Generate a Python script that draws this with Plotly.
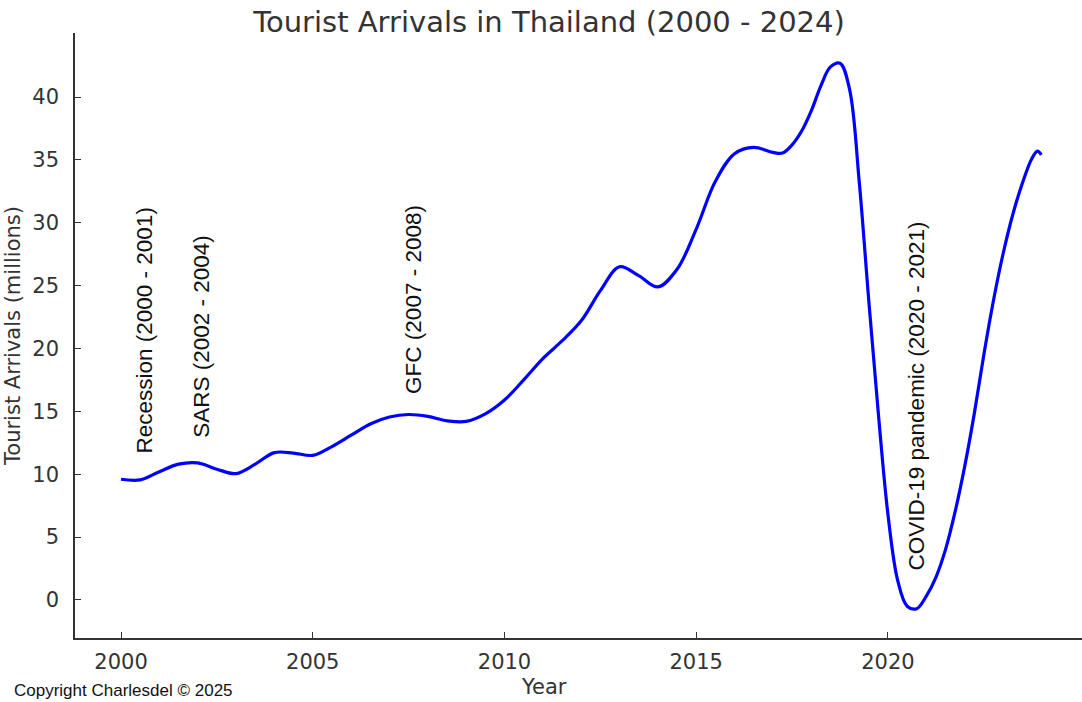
import plotly.graph_objects as go

# Values (year, tourist arrivals in millions)
years = [2000.0, 2000.5, 2001.0, 2001.5, 2002.0, 2002.5, 2003.0, 2003.5, 2004.0,
         2004.5, 2005.0, 2005.5, 2006.0, 2006.5, 2007.0, 2007.5, 2008.0, 2008.5,
         2009.0, 2009.5, 2010.0, 2010.5, 2011.0, 2011.5, 2012.0, 2012.5, 2013.0,
         2013.5, 2014.0, 2014.5, 2015.0, 2015.5, 2016.0, 2016.5, 2017.0, 2017.25,
         2017.5, 2017.75, 2018.0, 2018.25, 2018.5, 2018.75, 2019.0, 2019.25,
         2019.5, 2019.75, 2020.0, 2020.25, 2020.5, 2020.75, 2021.0, 2021.25,
         2021.5, 2021.75, 2022.0, 2022.25, 2022.5, 2022.75, 2023.0, 2023.25,
         2023.5, 2023.75, 2023.9, 2024.0]
arrivals = [9.6, 9.55, 10.2, 10.8, 10.9, 10.4, 10.05, 10.8, 11.72,
            11.68, 11.5, 12.2, 13.1, 14.0, 14.55, 14.75, 14.6, 14.25,
            14.2, 14.8, 15.9, 17.5, 19.2, 20.6, 22.2, 24.6, 26.5,
            25.8, 24.9, 26.3, 29.5, 33.3, 35.5, 36.0, 35.6, 35.55,
            36.2, 37.3, 38.9, 40.9, 42.4, 42.7, 40.6, 33.3,
            23.8, 14.8, 6.8, 1.6, -0.5, -0.7, 0.3, 1.8,
            4.0, 7.0, 10.6, 14.8, 19.5, 23.8, 27.5, 30.6,
            33.1, 35.1, 35.7, 35.4]

event_labels = ["Recession (2000 - 2001)", "SARS (2002 - 2004)",
                "GFC (2007 - 2008)", "COVID-19 pandemic (2020 - 2021)"]
event_x = [2000.61, 2002.11, 2007.64, 2020.74]
event_y = [11.6, 12.85, 16.35, 2.25]

x_ticks = [2000, 2005, 2010, 2015, 2020]
y_ticks = [0, 5, 10, 15, 20, 25, 30, 35, 40]

axis_color = "#333333"
text_color = "#333333"

W, H = 1082, 702
L, R, T, B = 75, 1082, 33, 638  # plot area in pixels

fig = go.Figure()
fig.add_trace(go.Scatter(
    x=years, y=arrivals, mode="lines",
    line=dict(color="#0000ff", width=3.2, shape="spline", smoothing=1.0),
    name="Tourist Arrivals", showlegend=False, hoverinfo="x+y",
))

for lab, ex, ey in zip(event_labels, event_x, event_y):
    fig.add_annotation(
        x=ex, y=ey, xref="x", yref="y", text=lab, textangle=-90,
        showarrow=False, xanchor="center", yanchor="bottom",
        font=dict(family="Liberation Sans, Arial", size=22.5, color="#111111"),
        borderpad=0,
    )

fig.add_annotation(
    x=(544 - L) / (R - L), y=-(687 - B) / (B - T), xref="paper", yref="paper",
    text="Year", showarrow=False,
    font=dict(family="DejaVu Sans", size=21, color=text_color),
    xanchor="center", yanchor="middle",
)
fig.add_annotation(
    x=(12 - L) / (R - L), y=-(690 - B) / (B - T), xref="paper", yref="paper",
    text="Copyright Charlesdel © 2025", showarrow=False,
    font=dict(family="Liberation Sans, Arial", size=17, color="#111111"),
    xanchor="left", yanchor="middle",
)

fig.update_layout(
    width=W, height=H,
    margin=dict(l=L, r=W - R, t=T, b=H - B, autoexpand=False),
    paper_bgcolor="white", plot_bgcolor="white",
    title=dict(text="Tourist Arrivals in Thailand (2000 - 2024)",
               x=549 / W, xref="container", xanchor="center",
               y=1 - 22 / H, yref="container", yanchor="middle",
               font=dict(family="DejaVu Sans", size=29, color=text_color)),
)

fig.update_xaxes(
    range=[1998.8, 2025.06], tickvals=x_ticks, ticktext=[str(t) for t in x_ticks],
    showgrid=False, zeroline=False, showline=True, linecolor=axis_color, linewidth=1.6,
    ticks="inside", ticklen=6, tickwidth=1.3, tickcolor=axis_color,
    tickfont=dict(family="DejaVu Sans", size=21, color=text_color),
    ticklabelstandoff=4, fixedrange=True,
)
fig.update_yaxes(
    range=[-3.03, 45.1], tickvals=y_ticks, ticktext=[str(t) for t in y_ticks],
    showgrid=False, zeroline=False, showline=True, linecolor=axis_color, linewidth=1.6,
    ticks="inside", ticklen=6, tickwidth=1.3, tickcolor=axis_color,
    tickfont=dict(family="DejaVu Sans", size=21, color=text_color),
    ticklabelstandoff=10,
    title=dict(text="Tourist Arrivals (millions)", standoff=6,
               font=dict(family="DejaVu Sans", size=21, color=text_color)),
    fixedrange=True,
)

fig.write_html(
    "out.html",
    config={"displayModeBar": False},
    post_script="document.body.style.margin='0';document.body.style.padding='0';"
                "document.documentElement.style.overflow='hidden';",
)
